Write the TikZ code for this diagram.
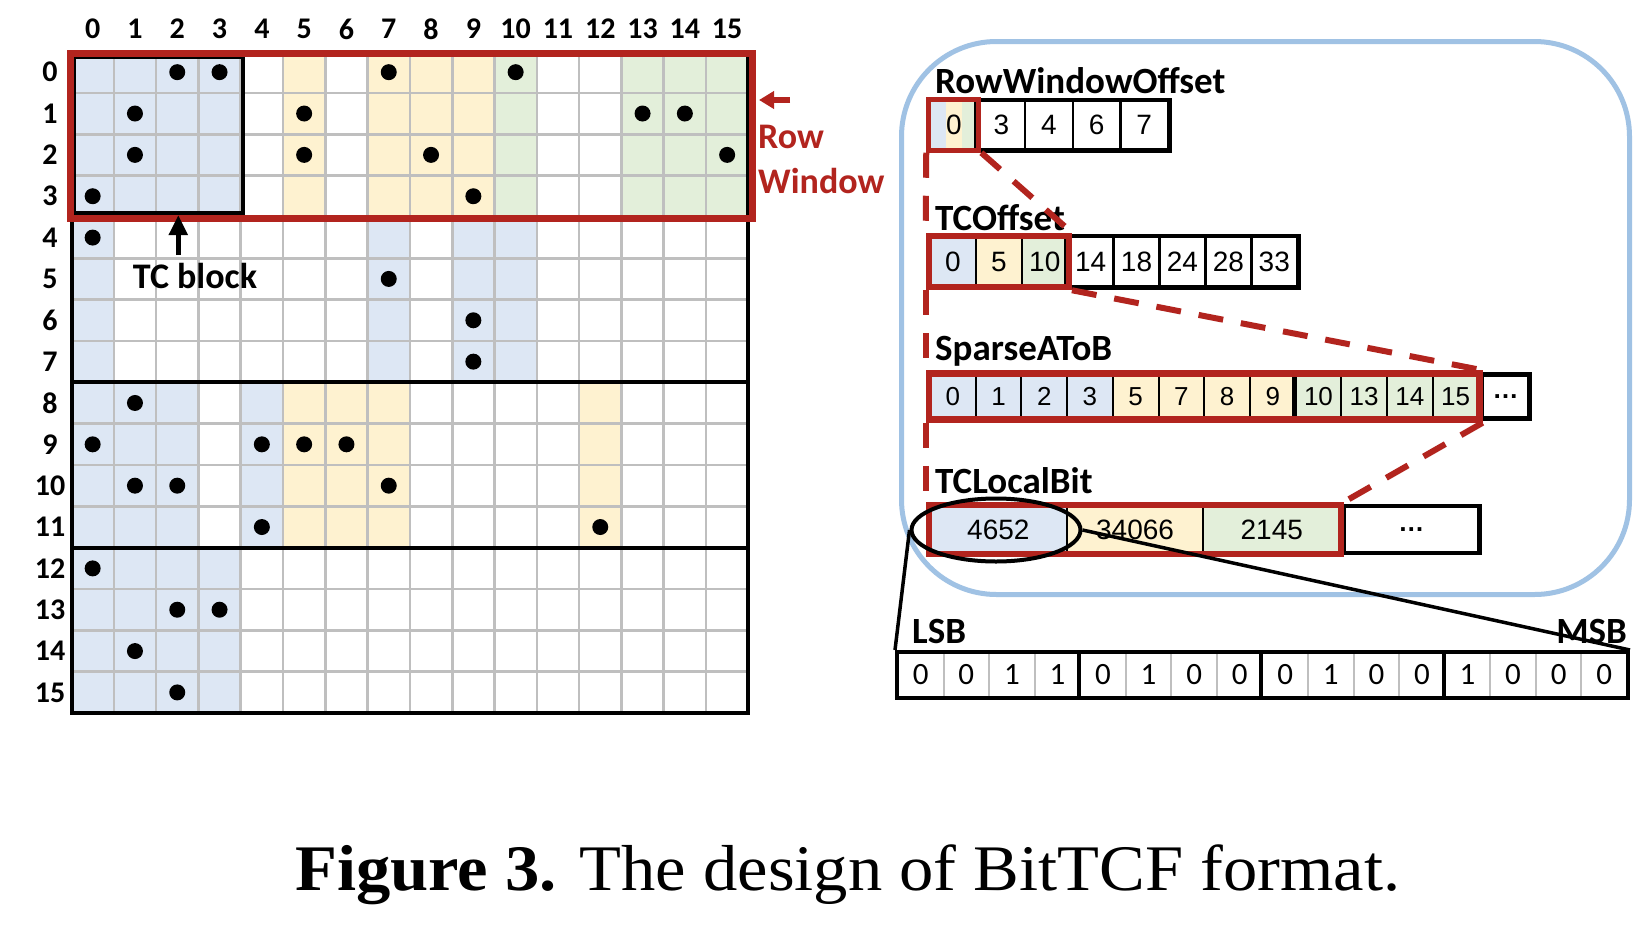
\documentclass[tikz,border=0pt]{standalone}
\usepackage{fontspec}
\setmainfont{Carlito}
\newfontfamily\arialf{Liberation Sans}
\newfontfamily\seriff{Liberation Serif}
\usetikzlibrary{arrows.meta,shapes.geometric,fit,calc}
\newcommand\myfs[1]{\fontsize{#1}{#1}\selectfont}
\definecolor{cblue}{RGB}{221,231,244}
\definecolor{cyellow}{RGB}{254,242,208}
\definecolor{cgreen}{RGB}{227,239,218}
\definecolor{cred}{RGB}{178,36,30}
\definecolor{cgray}{RGB}{191,191,191}
\definecolor{pblue}{RGB}{160,194,228}
\def\gx{71.5}\def\gw{42.3}\def\gy{51.5}\def\gh{41.35}
\tikzset{
  gridline/.style={draw=cgray, line width=2.6pt},
  blackline/.style={draw=black, line width=4pt},
  lbl/.style={font=\bfseries\myfs{30}, inner sep=0},
  ttl/.style={font=\bfseries\myfs{37}, inner sep=0, anchor=base west},
  acell/.style={draw=black, line width=2.5pt, inner sep=0, font=\arialf\myfs{28}},
  bcell/.style={draw=cgray, line width=2pt, inner sep=0, font=\myfs{31}, minimum width=45.56pt, minimum height=44pt},
  outerblk/.style={draw=black, line width=4.5pt},
  redbox/.style={draw=cred, line width=6pt, inner sep=0},
  reddash/.style={draw=cred, line width=6pt, dash pattern=on 25pt off 18pt},
  dotsym/.style={font=\arialf\bfseries\myfs{26}},
  rwtext/.style={font=\bfseries\myfs{36}, text=cred, inner sep=0, anchor=base west},
}
\begin{document}
\begin{tikzpicture}[x=1pt,y=-1pt]
\useasboundingbox (0,0) rectangle (1652,924);
\fill[white] (0,0) rectangle (1652,924);
% ---------- matrix fills ----------
\foreach \c/\r/\f in {0/0/cblue,1/0/cblue,2/0/cblue,3/0/cblue,5/0/cyellow,7/0/cyellow,8/0/cyellow,9/0/cyellow,
  10/0/cgreen,13/0/cgreen,14/0/cgreen,15/0/cgreen,
  0/4/cblue,7/4/cblue,9/4/cblue,10/4/cblue,
  0/8/cblue,1/8/cblue,2/8/cblue,4/8/cblue,5/8/cyellow,6/8/cyellow,7/8/cyellow,12/8/cyellow,
  0/12/cblue,1/12/cblue,2/12/cblue,3/12/cblue}
  \fill[\f] ({\gx+\c*\gw},{\gy+\r*\gh}) rectangle ++(\gw,{4*\gh});
\foreach \i in {1,...,15} {
  \draw[gridline] ({\gx+\i*\gw},\gy) -- ++(0,{16*\gh});
  \draw[gridline] (\gx,{\gy+\i*\gh}) -- ++({16*\gw},0);
}
\draw[blackline] (\gx,\gy) rectangle ++({16*\gw},{16*\gh});
\draw[blackline] (\gx,{\gy+8*\gh}) -- ++({16*\gw},0);
\draw[blackline] (\gx,{\gy+12*\gh}) -- ++({16*\gw},0);
% dots
\foreach \r/\c in {0/2,0/3,0/7,0/10,1/1,1/5,1/13,1/14,2/1,2/5,2/8,2/15,3/0,3/9,4/0,5/7,6/9,7/9,
  8/1,9/0,9/4,9/5,9/6,10/1,10/2,10/7,11/4,11/12,12/0,13/2,13/3,14/1,15/2}
  \fill ({\gx+(\c+0.5)*\gw},{\gy+(\r+0.5)*\gh}) circle[radius=8pt];
% labels
\foreach \i in {0,...,15} {
  \node[lbl] (col\i) at ({\gx+(\i+0.5)*\gw},29) {\i};
  \node[lbl] (row\i) at (50,{\gy+(\i+0.5)*\gh}) {\i};
}
% TC block and row window
\node[draw=black, line width=4pt, inner sep=0, minimum width=169pt, minimum height=156pt, anchor=north west] (tcblock) at (71.5,55) {};
\node[draw=cred, line width=7pt, inner sep=0, minimum width=682pt, minimum height=165pt, anchor=north west] (rw) at (66.5,50) {};
\node[font=\bfseries\myfs{36}, inner sep=0] (tclabel) at (195,276) {TC block};
\coordinate (tca) at ([xshift=-16.7pt,yshift=8pt]tclabel.north);
\draw[line width=5pt, -{Triangle[length=20pt,width=18pt]}] (tca) -- (tca |- tcblock.south);
\node[rwtext] (rwl1) at (758,148) {Row};
\node[rwtext] (rwl2) at (758,193) {Window};
\coordinate (rwa) at (790,100);
\draw[cred, line width=6.5pt, -{Triangle[length=15pt,width=17pt]}] (rwa) -- ([xshift=3.5pt]rwa -| rw.east);
% ---------- right panel ----------
\node[draw=pblue, line width=5pt, rounded corners=95pt, inner sep=0, minimum width=728pt, minimum height=553pt, anchor=north west] (panel) at (899,39) {};
\node[ttl] (t1) at (935,93) {RowWindowOffset};
\node[ttl] (t2) at (935,230) {TCOffset};
\node[ttl] (t3) at (935,360) {SparseAToB};
\node[ttl] (t4) at (935,493) {TCLocalBit};
% RowWindowOffset
\fill[cblue] (930,101) rectangle (945.9,149);
\fill[cyellow] (945.9,101) rectangle (961.7,149);
\fill[cgreen] (961.7,101) rectangle (977.6,149);
\foreach \v [count=\i from 0] in {0,3,4,6,7}
  \node[acell, minimum width=47.6pt, minimum height=48pt] (rwo\i) at ({930+(\i+0.5)*47.6},125) {\v};
\draw[outerblk] (rwo1.north west) rectangle (rwo4.south east);
\node[redbox, line width=5pt, fit=(rwo0)] (rwored) {};
% TCOffset
\foreach \v/\f [count=\i from 0] in {0/cblue,5/cyellow,10/cgreen,14/white,18/white,24/white,28/white,33/white}
  \node[acell, fill=\f, minimum width=45.9pt, minimum height=49pt] (tco\i) at ({930+(\i+0.5)*45.9},261.5) {\v};
\draw[outerblk] (tco3.north west) rectangle (tco7.south east);
\node[redbox, fit=(tco0)(tco2)] (tcored) {};
% SparseAToB
\foreach \v/\f [count=\i from 0] in {0/cblue,1/cblue,2/cblue,3/cblue,5/cyellow,7/cyellow,8/cyellow,9/cyellow,10/cgreen,13/cgreen,14/cgreen,15/cgreen}
  \node[acell, fill=\f, font=\arialf\myfs{26}, line width=2pt, minimum width=45.7pt, minimum height=44pt] (sab\i) at ({930+(\i+0.5)*45.7},396.5) {\v};
\draw[outerblk] (sab8.north west) -- (sab8.south west);
\node[acell, line width=4.5pt, minimum width=48pt, minimum height=44pt, anchor=west, dotsym] (sabdots) at (sab11.east) {…};
\node[redbox, line width=6.5pt, fit=(sab0)(sab11)] (sabred) {};
% TCLocalBit
\foreach \v/\f [count=\i from 0] in {4652/cblue,34066/cyellow,2145/cgreen}
  \node[acell, fill=\f, line width=2pt, minimum width=136.7pt, minimum height=47pt] (tcl\i) at ({930+(\i+0.5)*136.7},529.5) {\v};
\node[acell, line width=4.5pt, minimum width=136pt, minimum height=47pt, anchor=west, dotsym] (tcldots) at (tcl2.east) {…};
\node[redbox, line width=6.5pt, fit=(tcl0)(tcl2)] (tclred) {};
% dashed links
\draw[reddash] (rwored.south west) -- (tcored.north west);
\draw[reddash] (rwored.south east) -- (tcored.north east);
\draw[reddash] (tcored.south west) -- (sabred.north west);
\draw[reddash] (tcored.south east) -- (sabred.north east);
\draw[reddash] (sabred.south west) -- (tclred.north west);
\draw[reddash] (sabred.south east) -- (tclred.north east);
% bits
\foreach \v [count=\i from 0] in {0,0,1,1,0,1,0,0,0,1,0,0,1,0,0,0}
  \node[bcell] (b\i) at ({898+(\i+0.5)*45.56},675) {\v};
\foreach \i in {4,8,12} \draw[blackline] (b\i.north west) -- (b\i.south west);
\node[draw=black, line width=4pt, inner sep=0, fit=(b0)(b15)] (bits) {};
\node[ttl] (lsb) at (912,643) {LSB};
\node[ttl, anchor=base east] (msb) at (1627,643) {MSB};
% ellipse and zoom lines
\node[draw=black, ellipse, line width=4pt, inner sep=0, minimum width=169pt, minimum height=63pt] (ell) at (996,530) {};
\draw[line width=3.5pt] (ell.west) -- (bits.north west);
\draw[line width=3.5pt] (ell.east) -- (bits.north east);
% caption
\node[anchor=base west, inner sep=0] (cap) at (295,890) {\seriff\myfs{65}\scalebox{1.055}[1]{\textbf{Figure 3.} The design of BitTCF format.}};
\end{tikzpicture}
\end{document}
